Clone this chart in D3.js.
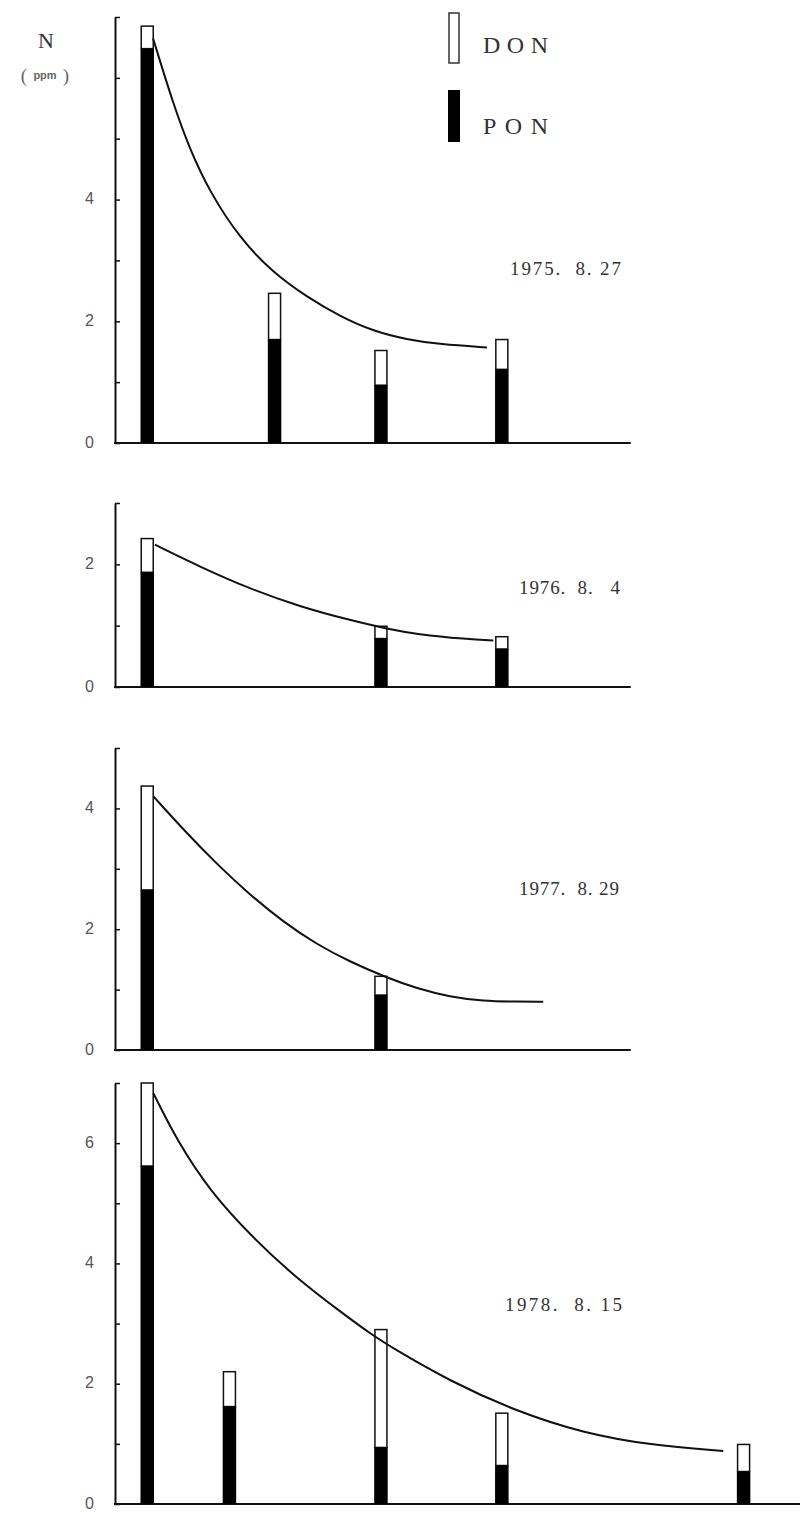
<!DOCTYPE html>
<html>
<head>
<meta charset="utf-8">
<script src="https://cdn.jsdelivr.net/npm/d3@7"></script>
<style>
  html, body { margin: 0; padding: 0; background: #fff; }
  svg { display: block; }
</style>
</head>
<body>
<svg id="chart" width="807" height="1513"></svg>
<script>
// 1975.8.27 — station positions, PON and DON (ppm), fitted curve
const s1975 = [2, 9.9, 16.5, 24];
const pon1975 = [6.48, 1.70, 0.95, 1.21];
const don1975 = [0.37, 0.76, 0.57, 0.49];
const curveX1975 = [2.36, 3.60, 4.65, 5.89, 7.75, 9.80, 11.91, 13.96, 16.00, 18.11, 20.16, 23.08];
const curveY1975 = [6.65, 5.58, 4.82, 4.12, 3.36, 2.80, 2.40, 2.08, 1.84, 1.70, 1.62, 1.57];

// 1976.8.4
const s1976 = [2, 16.5, 24];
const pon1976 = [1.87, 0.79, 0.62];
const don1976 = [0.55, 0.20, 0.20];
const curveX1976 = [2.48, 5.27, 8.37, 11.48, 14.58, 16.85, 18.72, 21.82, 23.47];
const curveY1976 = [2.32, 1.96, 1.60, 1.31, 1.09, 0.95, 0.86, 0.78, 0.76];

// 1977.8.29
const s1977 = [2, 16.5];
const pon1977 = [2.65, 0.91];
const don1977 = [1.72, 0.31];
const curveX1977 = [2.38, 4.24, 6.31, 8.37, 10.44, 12.51, 14.58, 16.85, 18.72, 20.78, 22.85, 24.92, 26.57];
const curveY1977 = [4.20, 3.65, 3.08, 2.57, 2.12, 1.75, 1.46, 1.20, 1.02, 0.88, 0.81, 0.80, 0.80];

// 1978.8.15
const s1978 = [2, 7.1, 16.5, 24, 39];
const pon1978 = [5.62, 1.62, 0.94, 0.64, 0.54];
const don1978 = [1.38, 0.58, 1.96, 0.87, 0.45];
const curveX1978 = [2.38, 3.83, 5.89, 8.58, 11.06, 14.16, 16.02, 17.06, 20.78, 24.92, 29.05, 33.19, 37.74];
const curveY1978 = [6.83, 6.05, 5.20, 4.42, 3.80, 3.16, 2.80, 2.62, 2.04, 1.54, 1.18, 0.98, 0.88];

// Axis maxima and labelled ticks
const yMax = [7, 3, 5, 7];
const tickLabels1975 = [0, 2, 4];
const tickLabels1976 = [0, 2];
const tickLabels1977 = [0, 2, 4];
const tickLabels1978 = [0, 2, 4, 6];

const dateLabels = ["1975.  8. 27", "1976.  8.   4", "1977.  8. 29", "1978.  8. 15"];
const legendLabels = ["DON", "PON"];

// ---- layout ----
const svg = d3.select("#chart");
const panels = [
  { stations: s1975, pon: pon1975, don: don1975, cx: curveX1975, cy: curveY1975, max: yMax[0], labels: tickLabels1975, date: dateLabels[0],
    top: 17, base: 443, xEnd: 32, dateX: 510, dateY: 275, dateW: 111 },
  { stations: s1976, pon: pon1976, don: don1976, cx: curveX1976, cy: curveY1976, max: yMax[1], labels: tickLabels1976, date: dateLabels[1],
    top: 503, base: 687, xEnd: 32, dateX: 519, dateY: 594, dateW: 101 },
  { stations: s1977, pon: pon1977, don: don1977, cx: curveX1977, cy: curveY1977, max: yMax[2], labels: tickLabels1977, date: dateLabels[2],
    top: 748, base: 1050, xEnd: 32, dateX: 519, dateY: 895, dateW: 100 },
  { stations: s1978, pon: pon1978, don: don1978, cx: curveX1978, cy: curveY1978, max: yMax[3], labels: tickLabels1978, date: dateLabels[3],
    top: 1083, base: 1504, xEnd: 42.5, dateX: 505, dateY: 1311, dateW: 117 }
];

const x = d3.scaleLinear().domain([0, 42.5]).range([115, 800]);
const barW = 12;

panels.forEach(p => {
  const y = d3.scaleLinear().domain([0, p.max]).range([p.base, p.top]);
  const g = svg.append("g");

  // y axis with inward ticks at every unit
  const axis = d3.axisLeft(y)
    .tickValues(d3.range(0, p.max + 1))
    .tickSize(-5)
    .tickSizeOuter(0)
    .tickPadding(21)
    .tickFormat(d => p.labels.includes(d) ? d : "");
  const ag = g.append("g").attr("transform", `translate(${x(0)},0)`).call(axis);
  ag.select(".domain").attr("stroke", "#111").attr("stroke-width", 2);
  ag.selectAll(".tick line").attr("stroke", "#111").attr("stroke-width", 1.5);
  ag.selectAll(".tick text")
    .attr("dy", "0.25em")
    .attr("font-family", "'Liberation Sans Narrow', 'Liberation Sans', sans-serif")
    .attr("font-size", 16)
    .attr("fill", "#555");

  // baseline
  g.append("line")
    .attr("x1", x(0) - 1).attr("x2", x(p.xEnd))
    .attr("y1", y(0)).attr("y2", y(0))
    .attr("stroke", "#111").attr("stroke-width", 2);

  // stacked bars: PON (black) below, DON (open) above
  const rows = p.stations.map((s, i) => ({ s, pon: p.pon[i], don: p.don[i] }));
  g.selectAll("rect.don").data(rows).join("rect")
    .attr("class", "don")
    .attr("x", d => x(d.s) - barW / 2)
    .attr("width", barW)
    .attr("y", d => y(d.pon + d.don))
    .attr("height", d => y(d.pon) - y(d.pon + d.don))
    .attr("fill", "#fff").attr("stroke", "#111").attr("stroke-width", 1.5);
  g.selectAll("rect.pon").data(rows).join("rect")
    .attr("class", "pon")
    .attr("x", d => x(d.s) - barW / 2 - 0.75)
    .attr("width", barW + 1.5)
    .attr("y", d => y(d.pon))
    .attr("height", d => y(0) - y(d.pon))
    .attr("fill", "#000");

  // fitted decline curve
  const pts = p.cx.map((v, i) => [v, p.cy[i]]);
  g.append("path")
    .attr("d", d3.line().x(d => x(d[0])).y(d => y(d[1])).curve(d3.curveBasis)(pts))
    .attr("fill", "none").attr("stroke", "#111").attr("stroke-width", 2);

  // survey date
  g.append("text")
    .attr("x", p.dateX).attr("y", p.dateY)
    .attr("xml:space", "preserve")
    .style("white-space", "pre")
    .attr("textLength", p.dateW).attr("lengthAdjust", "spacing")
    .attr("font-family", "'Liberation Serif', 'DejaVu Serif', serif")
    .attr("font-size", 19)
    .attr("fill", "#333")
    .text(p.date);
});

// y-axis title
svg.append("text").attr("x", 46).attr("y", 48).attr("text-anchor", "middle")
  .attr("font-family", "'Liberation Serif', serif").attr("font-size", 22).attr("fill", "#333").text("N");
svg.append("text").attr("x", 24).attr("y", 82).attr("text-anchor", "middle")
  .attr("font-family", "'Liberation Serif', serif").attr("font-size", 19).attr("fill", "#666").text("(");
svg.append("text").attr("x", 45).attr("y", 79).attr("text-anchor", "middle")
  .attr("font-family", "'Liberation Sans Narrow', 'Liberation Sans', sans-serif").attr("font-size", 11).attr("font-weight", "bold").attr("fill", "#666").text("ppm");
svg.append("text").attr("x", 66).attr("y", 82).attr("text-anchor", "middle")
  .attr("font-family", "'Liberation Serif', serif").attr("font-size", 19).attr("fill", "#666").text(")");

// legend
const lg = svg.append("g");
lg.append("rect").attr("x", 449).attr("y", 13).attr("width", 10).attr("height", 50)
  .attr("fill", "#fff").attr("stroke", "#333").attr("stroke-width", 1.5);
lg.append("rect").attr("x", 448).attr("y", 90).attr("width", 12).attr("height", 52).attr("fill", "#000");
lg.selectAll("text").data(legendLabels).join("text")
  .attr("x", 483)
  .attr("y", (d, i) => i === 0 ? 53 : 134)
  .attr("textLength", 65).attr("lengthAdjust", "spacing")
  .attr("font-family", "'Liberation Serif', serif")
  .attr("font-size", 24)
  .attr("fill", "#333")
  .text(d => d);
</script>
</body>
</html>
